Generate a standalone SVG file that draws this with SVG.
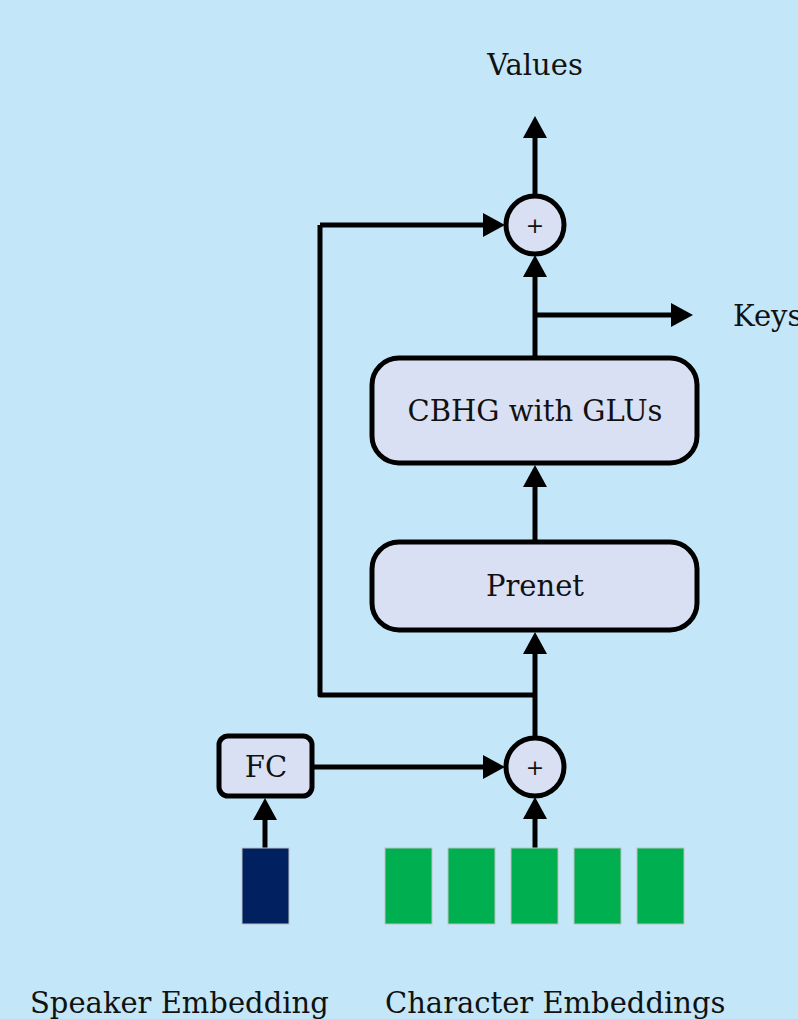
<svg xmlns="http://www.w3.org/2000/svg" width="798" height="1019" viewBox="0 0 798 1019">
  <style>
    .bg { fill: #C3E7F8; }
    .node { fill: #DAE0F3; stroke: #000; stroke-width: 5; }
    .wire { fill: none; stroke: #000; stroke-width: 5; stroke-linejoin: round; }
    .lbl { font-family: "DejaVu Serif", "Liberation Serif", serif; font-size: 29px; fill: #111; }
    .plus { font-family: "DejaVu Sans", "Liberation Sans", sans-serif; font-size: 22px; fill: #111; }
    .char { fill: #00B050; stroke: #BFBFBF; stroke-width: 1; }
    .spk { fill: #002060; stroke: #BFBFBF; stroke-width: 1; }
  </style>
  <defs>
    <marker id="arr" markerUnits="userSpaceOnUse" markerWidth="24" markerHeight="24" viewBox="0 0 22 24" refX="8" refY="12" orient="auto">
      <path d="M0,0 L22,12 L0,24 Z" fill="#000"/>
    </marker>
  </defs>
  <rect class="bg" x="0" y="0" width="798" height="1019"/>

  <g id="connectors">
    <path class="wire" d="M535,196 V130" marker-end="url(#arr)"/>
    <path class="wire" d="M320,225 H491" marker-end="url(#arr)"/>
    <path class="wire" d="M320,225 V695 H535"/>
    <path class="wire" d="M535,356 V269" marker-end="url(#arr)"/>
    <path class="wire" d="M535,315 H679" marker-end="url(#arr)"/>
    <path class="wire" d="M535,540 V479" marker-end="url(#arr)"/>
    <path class="wire" d="M535,738 V646" marker-end="url(#arr)"/>
    <path class="wire" d="M313,767 H491" marker-end="url(#arr)"/>
    <path class="wire" d="M535,848 V811" marker-end="url(#arr)"/>
    <path class="wire" d="M265,848 V812" marker-end="url(#arr)"/>
  </g>

  <g id="values-label">
    <text class="lbl" x="535" y="75" text-anchor="middle">Values</text>
  </g>
  <g id="keys-label">
    <text class="lbl" x="733" y="326">Keys</text>
  </g>

  <g id="add-top">
    <circle class="node" cx="535" cy="225" r="29"/>
    <text class="plus" x="535" y="233" text-anchor="middle">+</text>
  </g>

  <g id="cbhg">
    <rect class="node" x="372" y="358" width="325" height="105" rx="27"/>
    <text class="lbl" x="535" y="421" text-anchor="middle">CBHG with GLUs</text>
  </g>

  <g id="prenet">
    <rect class="node" x="372" y="542" width="325" height="88" rx="27"/>
    <text class="lbl" x="535" y="596" text-anchor="middle">Prenet</text>
  </g>

  <g id="add-bottom">
    <circle class="node" cx="535" cy="767" r="29"/>
    <text class="plus" x="535" y="775" text-anchor="middle">+</text>
  </g>

  <g id="fc">
    <rect class="node" x="219" y="736" width="93" height="60" rx="9"/>
    <text class="lbl" x="266" y="777" text-anchor="middle">FC</text>
  </g>

  <g id="speaker-embedding">
    <rect class="spk" x="242" y="848" width="47" height="76"/>
    <text class="lbl" x="30" y="1013">Speaker Embedding</text>
  </g>

  <g id="character-embeddings">
    <rect class="char" x="385" y="848" width="47" height="76"/>
    <rect class="char" x="448" y="848" width="47" height="76"/>
    <rect class="char" x="511" y="848" width="47" height="76"/>
    <rect class="char" x="574" y="848" width="47" height="76"/>
    <rect class="char" x="637" y="848" width="47" height="76"/>
    <text class="lbl" x="385" y="1013">Character Embeddings</text>
  </g>
</svg>
